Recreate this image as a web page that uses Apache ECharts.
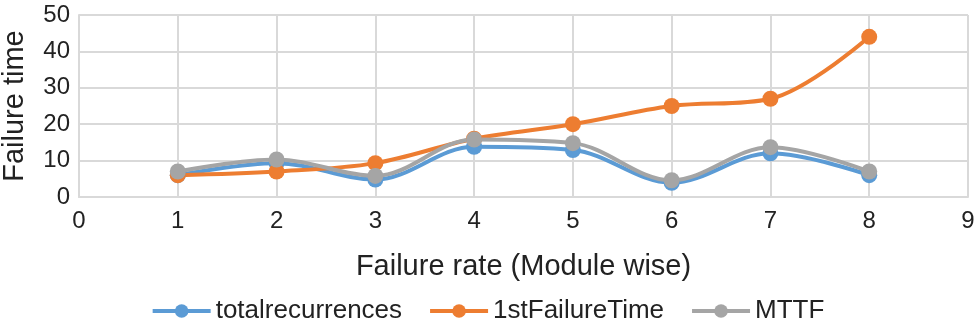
<!DOCTYPE html>
<html>
<head>
<meta charset="utf-8">
<script src="https://cdn.jsdelivr.net/npm/echarts@6/dist/echarts.min.js"></script>
<style>
  html, body { margin: 0; padding: 0; background: #fff; }
  #chart { width: 975px; height: 330px; }
</style>
</head>
<body>
<div id="chart"></div>
<script>
var modules = [1, 2, 3, 4, 5, 6, 7, 8]
var totalRecurrences = [6, 9.3, 4.8, 13.8, 12.9, 3.9, 12, 6]
var firstFailureTime = [6, 7, 9.3, 16, 20, 25, 27, 44]
var mttf = [7, 10.3, 5.8, 15.8, 14.8, 4.6, 13.7, 7]

function pairs (ys) {
  var out = []
  for (var i in modules) {
    out.push([modules[i], ys[i]])
  }
  return out
}

function makeSeries (name, color, ys) {
  return {
    name: name,
    type: 'line',
    smooth: 0.35,
    symbol: 'circle',
    symbolSize: 16,
    data: pairs(ys),
    lineStyle: { color: color, width: 4 },
    itemStyle: { color: color }
  }
}

var chart = echarts.init(document.getElementById('chart'))

var option = {
  animation: false,
  textStyle: { fontFamily: 'Liberation Sans, Arial, sans-serif' },
  color: ['#5b9bd5', '#ed7d31', '#a5a5a5'],
  grid: { left: 79, right: 7, top: 15, bottom: 133, containLabel: false, outerBoundsMode: 'none' },
  legend: {
    bottom: 1,
    left: 'center',
    itemWidth: 58,
    itemHeight: 17,
    itemGap: 26,
    lineStyle: { width: 4 },
    textStyle: { fontSize: 26, color: '#222' },
    data: ['totalrecurrences', '1stFailureTime', 'MTTF']
  },
  xAxis: {
    type: 'value',
    min: 0,
    max: 9,
    interval: 1,
    name: 'Failure rate (Module wise)',
    nameLocation: 'middle',
    nameGap: 55,
    nameTextStyle: { fontSize: 29, color: '#222' },
    axisLine: { lineStyle: { color: '#d9d9d9', width: 2 } },
    axisTick: { show: false },
    axisLabel: { fontSize: 24, color: '#222', margin: 12 },
    splitLine: { show: true, lineStyle: { color: '#d9d9d9', width: 2 } }
  },
  yAxis: {
    type: 'value',
    min: 0,
    max: 50,
    interval: 10,
    name: 'Failure time',
    nameLocation: 'middle',
    nameGap: 50,
    nameTextStyle: { fontSize: 29, color: '#222' },
    axisLine: { show: true, lineStyle: { color: '#d9d9d9', width: 2 } },
    axisTick: { show: false },
    axisLabel: { fontSize: 24, color: '#222', margin: 9 },
    splitLine: { lineStyle: { color: '#d9d9d9', width: 2 } }
  },
  series: [
    makeSeries('totalrecurrences', '#5b9bd5', totalRecurrences),
    makeSeries('1stFailureTime', '#ed7d31', firstFailureTime),
    makeSeries('MTTF', '#a5a5a5', mttf)
  ]
}

chart.setOption(option)
</script>
</body>
</html>
